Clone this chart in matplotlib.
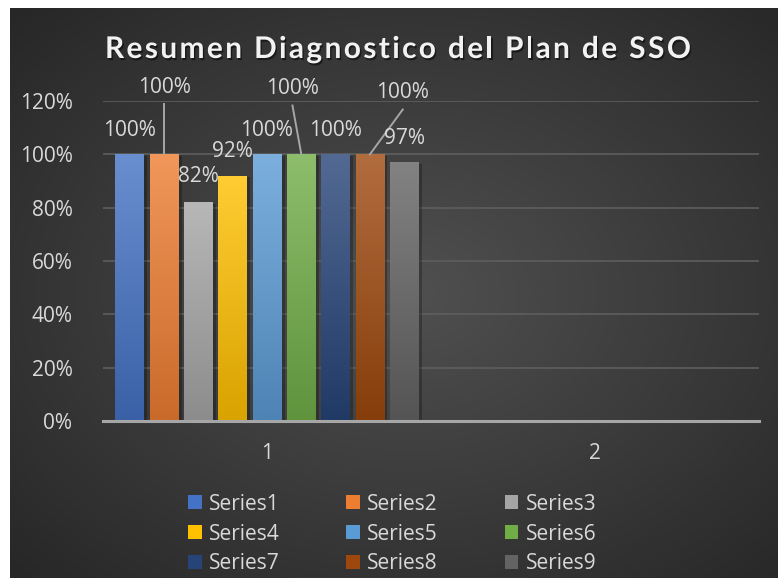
import numpy as np
import matplotlib
matplotlib.use("Agg")
import matplotlib.pyplot as plt
from matplotlib.patches import Rectangle
from matplotlib import patheffects as pe
from matplotlib.colors import to_rgb

# ---- data ----
categories = ["1", "2"]
series_names = ["Series1", "Series2", "Series3", "Series4", "Series5",
                "Series6", "Series7", "Series8", "Series9"]
# values for category "1"; category "2" is empty
values_cat1 = [1.00, 1.00, 0.82, 0.92, 1.00, 1.00, 1.00, 1.00, 0.97]
values_cat2 = [np.nan] * 9
label_text = ["100%", "100%", "82%", "92%", "100%", "100%", "100%", "100%", "97%"]
yticks = [0, 0.2, 0.4, 0.6, 0.8, 1.0, 1.2]
ytick_labels = ["0%", "20%", "40%", "60%", "80%", "100%", "120%"]

colors = ["#4472C4", "#ED7D31", "#A5A5A5", "#FFC000", "#5B9BD5",
          "#70AD47", "#264478", "#9E480E", "#636363"]

plt.rcParams['font.family'] = ['Open Sans', 'DejaVu Sans']
TXT = "#d9d9d9"
FS = 15

W, H = 778, 578
fig = plt.figure(figsize=(W / 100, H / 100), dpi=100)
fig.patch.set_facecolor("white")

# dark panel with radial gradient
bg = fig.add_axes([10 / W, 0, 1 - 10 / W, 1 - 8 / H])
bg.set_axis_off()
yy, xx = np.mgrid[0:1:300j, 0:1:400j]
r = np.sqrt(((xx - 0.52) / 0.75) ** 2 + ((yy - 0.5) / 0.75) ** 2)
r = np.clip(r, 0, 1)
c_in = np.array([0x50, 0x50, 0x50]) / 255
c_out = np.array([0x25, 0x25, 0x25]) / 255
img = c_in[None, None, :] * (1 - r[..., None]) + c_out[None, None, :] * r[..., None]
bg.imshow(img, extent=[0, 1, 0, 1], aspect="auto")
bg.set_xlim(0, 1)
bg.set_ylim(0, 1)

# plot axes
ax = fig.add_axes([103 / W, 1 - 421 / H, (759 - 103) / W, (421 - 101) / H])
ax.patch.set_alpha(0)

pitch = 0.1046
width = 0.087
x = np.arange(len(categories))
bars_all = []
for i, name in enumerate(series_names):
    vals = [values_cat1[i], values_cat2[i]]
    xpos = x + (i - 4) * pitch
    bars = ax.bar(xpos, vals, width, color=colors[i], label=name, zorder=3)
    bars_all.append(bars)
    base = np.array(to_rgb(colors[i]))
    top = base + (1 - base) * 0.2
    bot = base * 0.85
    grad = np.linspace(0, 1, 100)[:, None, None]
    gimg = top[None, None, :] * (1 - grad) + bot[None, None, :] * grad
    for b in bars:
        if np.isnan(b.get_height()):
            continue
        bx, by = b.get_x(), b.get_y()
        bw, bh = b.get_width(), b.get_height()
        # subtle shadow
        ax.add_patch(Rectangle((bx + 0.004, by), bw + 0.006, bh - 0.005,
                               color="black", alpha=0.25, zorder=2, lw=0))
        im = ax.imshow(gimg, extent=[bx, bx + bw, by, by + bh],
                       aspect="auto", zorder=4)
        im.set_clip_path(b)

ax.set_xlim(-0.5, 1.5)
ax.set_ylim(0, 1.2)

# grid / axes styling
ax.set_yticks(yticks)
ax.set_yticklabels(ytick_labels)
ax.set_xticks(x)
ax.set_xticklabels(categories)
ax.yaxis.grid(True, color="#5e5e5e", lw=1.2, zorder=0)
ax.tick_params(axis="both", length=0, colors=TXT, labelsize=FS)
ax.tick_params(axis="y", pad=22)
ax.tick_params(axis="x", pad=16)
for s in ["top", "right", "left"]:
    ax.spines[s].set_visible(False)
ax.spines["bottom"].set_color("#a6a6a6")
ax.spines["bottom"].set_linewidth(2.2)
ax.spines["bottom"].set_zorder(6)

# data labels: (dx, dy) offsets in data units from the bar top
label_off = {
    0: (0, 0.091), 1: (0, 0.252), 2: (0, 0.095), 3: (0, 0.092), 4: (0, 0.091),
    5: (-0.027, 0.245), 6: (0, 0.091), 7: (0.1, 0.23), 8: (0, 0.091),
}
for i, bars in enumerate(bars_all):
    b = bars[0]
    cx = b.get_x() + b.get_width() / 2
    h = b.get_height()
    dx, dy = label_off[i]
    lx = cx + dx
    ly = h + dy
    ax.text(lx, ly, label_text[i], ha="center", va="center",
            color=TXT, fontsize=FS, zorder=7)
    if i in (1, 5, 7):
        ax.plot([lx, cx], [ly - 0.062, h], color="#a6a6a6", lw=1.4,
                zorder=7, clip_on=False)

# legend: row-wise order with 3 columns
handles, labels = ax.get_legend_handles_labels()
order = [0, 3, 6, 1, 4, 7, 2, 5, 8]
leg = fig.legend([handles[k] for k in order], [labels[k] for k in order],
                 loc="center", bbox_to_anchor=(0.504, 1 - 534 / H), ncol=3,
                 frameon=False, fontsize=FS, handlelength=0.65,
                 handleheight=0.65, handletextpad=0.35, columnspacing=3.2,
                 labelspacing=0.42)
for t in leg.get_texts():
    t.set_color(TXT)

# title with letter spacing
title = "Resumen Diagnostico del Plan de SSO"
tprops = dict(fontsize=21.5, fontweight="bold", color="#f2f2f2",
              family=["Lato", "DejaVu Sans"])
fig.canvas.draw()
rend = fig.canvas.get_renderer()

def text_w(s):
    t = fig.text(0, 0, s + "|", **tprops)
    w = t.get_window_extent(rend).width
    t.remove()
    return w

adv = [text_w(title[:k + 1]) - text_w(title[:k]) for k in range(len(title))]
natural = sum(adv)
target_left, target_right = 105, 691
spacing = (target_right - target_left - natural) / (len(title) - 1)
xpix = target_left
for k, ch in enumerate(title):
    fig.text(xpix / W, 1 - 49 / H, ch, ha="left", va="center", **tprops,
             path_effects=[pe.withSimplePatchShadow(offset=(1, -1.5),
                                                    shadow_rgbFace="black",
                                                    alpha=0.5)])
    xpix += adv[k] + spacing

fig.savefig("out.png", dpi=100)
